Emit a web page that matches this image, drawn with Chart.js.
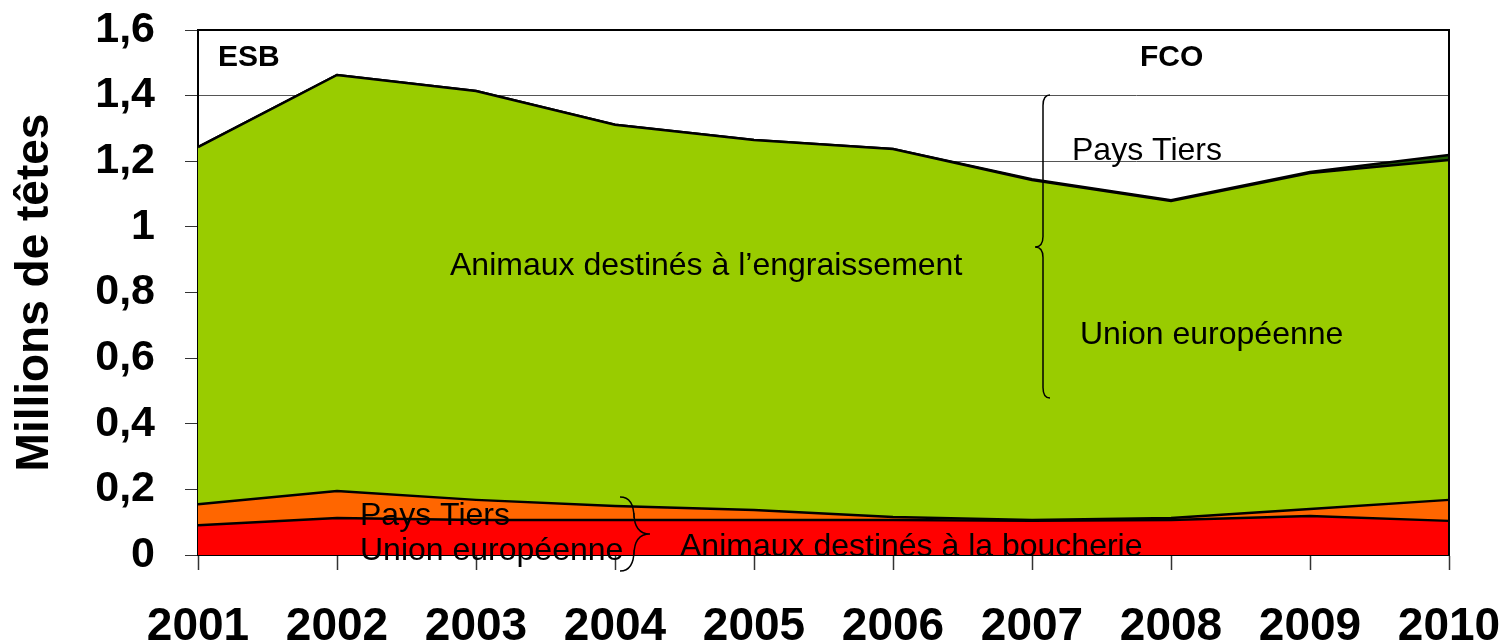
<!DOCTYPE html>
<html>
<head>
<meta charset="utf-8">
<script src="https://cdn.jsdelivr.net/npm/chart.js@4"></script>
<style>
  html, body { margin: 0; padding: 0; background: #fff; }
  #wrap { width: 1506px; height: 644px; }
</style>
</head>
<body>
<div id="wrap"><canvas id="chart"></canvas></div>
<script>
const annees = ["2001", "2002", "2003", "2004", "2005", "2006", "2007", "2008", "2009", "2010"];

// millions de têtes (valeurs empilées)
const boucherieUE = [0.091, 0.113, 0.107, 0.107, 0.107, 0.107, 0.104, 0.107, 0.119, 0.104];
const boucheriePT = [0.064, 0.082, 0.061, 0.042, 0.030, 0.009, 0.003, 0.006, 0.021, 0.064];
const engraisUE = [1.088, 1.268, 1.246, 1.162, 1.128, 1.121, 1.036, 0.966, 1.024, 1.036];
const engraisPT = [0, 0, 0, 0, 0, 0, 0.002, 0.002, 0.003, 0.015];

const yTicks = [0, 0.2, 0.4, 0.6, 0.8, 1, 1.2, 1.4, 1.6];

const FONT = "'Liberation Sans', Arial, sans-serif";

// textes posés sur le graphique
const annotations = [
  { text: "ESB", x: 218, y: 66, bold: true, size: 30 },
  { text: "FCO", x: 1140, y: 66, bold: true, size: 30 },
  { text: "Pays Tiers", x: 1072, y: 160, size: 32 },
  { text: "Animaux destinés à l’engraissement", x: 450, y: 275, size: 32 },
  { text: "Union européenne", x: 1080, y: 344, size: 32 },
  { text: "Pays Tiers", x: 360, y: 525, size: 32 },
  { text: "Union européenne", x: 360, y: 560, size: 32 },
  { text: "Animaux destinés à la boucherie", x: 680, y: 556, size: 32 },
];

function accolade(ctx, xEnd, xMid, xTip, yTop, yTipPos, yBot) {
  // accolade verticale ; xEnd = bouts, xMid = tige, xTip = pointe
  const r = Math.abs(xEnd - xMid);
  ctx.beginPath();
  ctx.moveTo(xEnd, yTop);
  ctx.quadraticCurveTo(xMid, yTop, xMid, yTop + r * 1.5);
  ctx.lineTo(xMid, yTipPos - r * 1.5);
  ctx.quadraticCurveTo(xMid, yTipPos, xTip, yTipPos);
  ctx.quadraticCurveTo(xMid, yTipPos, xMid, yTipPos + r * 1.5);
  ctx.lineTo(xMid, yBot - r * 1.5);
  ctx.quadraticCurveTo(xMid, yBot, xEnd, yBot);
  ctx.stroke();
}

const decorPlugin = {
  id: "decor",
  afterDraw(chart) {
    const { ctx, chartArea } = chart;
    ctx.save();
    // cadre haut et droit
    ctx.strokeStyle = "#000";
    ctx.lineWidth = 2;
    ctx.beginPath();
    ctx.moveTo(chartArea.left, chartArea.top);
    ctx.lineTo(chartArea.right, chartArea.top);
    ctx.lineTo(chartArea.right, chartArea.bottom);
    ctx.stroke();

    ctx.fillStyle = "#000";
    ctx.textBaseline = "alphabetic";
    ctx.textAlign = "left";
    annotations.forEach((a) => {
      ctx.font = `${a.bold ? "bold " : ""}${a.size}px ${FONT}`;
      ctx.fillText(a.text, a.x, a.y);
    });

    ctx.lineWidth = 1.5;
    accolade(ctx, 1050, 1043, 1035, 95, 247, 398);
    accolade(ctx, 620, 634, 650, 497, 534, 571);
    ctx.restore();
  },
};

const datasets = [
  { label: "Boucherie - Union européenne", data: boucherieUE, backgroundColor: "#ff0000", fill: "origin" },
  { label: "Boucherie - Pays Tiers", data: boucheriePT, backgroundColor: "#ff6600", fill: "-1" },
  { label: "Engraissement - Union européenne", data: engraisUE, backgroundColor: "#99cc00", fill: "-1" },
  { label: "Engraissement - Pays Tiers", data: engraisPT, backgroundColor: "#1f5c00", fill: "-1" },
].map((d) => ({
  ...d,
  borderColor: "#000",
  borderWidth: 2.5,
  pointRadius: 0,
  tension: 0,
}));

new Chart(document.getElementById("chart"), {
  type: "line",
  data: { labels: annees, datasets },
  options: {
    responsive: true,
    maintainAspectRatio: false,
    animation: false,
    layout: { padding: { left: 8, right: 57, top: 30, bottom: 0 } },
    plugins: {
      legend: { display: false },
      tooltip: { enabled: false },
    },
    scales: {
      x: {
        offset: false,
        grid: { drawOnChartArea: false, tickLength: 15, tickColor: "#333", tickWidth: 1.5 },
        border: { color: "#000", width: 2 },
        ticks: { color: "#000", padding: 30, maxRotation: 0, font: { family: FONT, size: 46, weight: "bold" } },
        afterFit(scale) {
          scale.height = 89;
          scale.paddingLeft = 0;
          scale.paddingRight = 0;
        },
      },
      y: {
        stacked: true,
        min: 0,
        max: 1.6,
        afterBuildTicks(scale) { scale.ticks = yTicks.map((v) => ({ value: v })); },
        grid: {
          color: (c) => (c.tick && (c.tick.value === 1.6 || c.tick.value === 0) ? "#000" : "#555"),
          lineWidth: 1,
          tickLength: 13,
          tickColor: "#333",
        },
        border: { color: "#000", width: 2 },
        ticks: {
          color: "#000",
          padding: 30,
          font: { family: FONT, size: 43, weight: "bold" },
          callback: (v) => String(Math.round(v * 10) / 10).replace(".", ","),
        },
        title: {
          display: true,
          text: "Millions de têtes",
          color: "#000",
          padding: 0,
          font: { family: FONT, size: 46, weight: "bold" },
        },
        afterFit(scale) {
          scale.width = 190;
          scale.paddingTop = 0;
          scale.paddingBottom = 0;
        },
      },
    },
  },
  plugins: [decorPlugin],
});
</script>
</body>
</html>
